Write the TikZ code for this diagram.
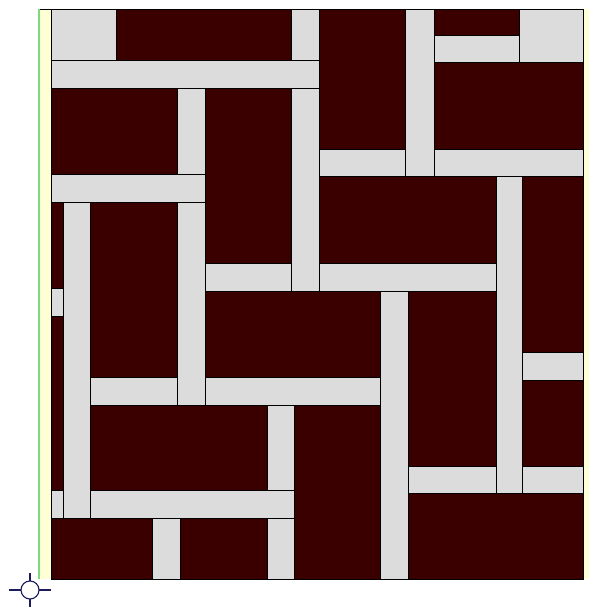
\documentclass[tikz,border=0pt]{standalone}
\usepackage{xcolor}
\definecolor{brickdark}{HTML}{3A0000}
\definecolor{jointgray}{HTML}{DCDCDC}
\definecolor{edgecream}{HTML}{FFFFD6}
\definecolor{edgegreen}{HTML}{7FD97F}
\definecolor{marknavy}{HTML}{1C1C5C}
\usepackage{tikz}

\begin{document}
\begin{tikzpicture}[
  x=1pt, y=-1pt,
  panel/.style={fill=brickdark, draw=black, line width=0.8pt},
  joint/.style={fill=jointgray, draw=black, line width=0.8pt},
  origin/.style={draw=marknavy, line width=1.1pt},
]
  \useasboundingbox[fill=white] (0,0) rectangle (589,609);

  % side strips
  \fill[edgecream] (40,9) rectangle (51,579);
  \fill[edgecream] (583,9) rectangle (589,579);
  \draw[edgegreen, line width=1.6pt] (39,9) -- (39,579);

  % dark field
  \draw[panel] (51,9) rectangle (583,579);
  \draw[black, line width=0.8pt] (40,9) -- (51,9);

  % gray joints, top part
  \foreach \xa/\ya/\xb/\yb in {
      51/9/116/60, 51/60/319/88, 291/9/319/60, 291/88/319/291,
      177/88/205/174, 51/174/205/202, 177/202/205/405,
      405/9/434/176, 434/35/519/62, 519/9/583/62,
      319/149/405/176, 434/149/583/176,
      205/263/291/291, 319/263/496/291}
    \draw[joint] (\xa,\ya) rectangle (\xb,\yb);

  % gray joints, lower part
  \foreach \xa/\ya/\xb/\yb in {
      63/202/90/518, 51/288/63/316, 51/490/63/518,
      90/377/177/405, 205/377/380/405, 380/291/408/579,
      496/176/522/493, 522/352/583/380,
      408/466/496/493, 522/466/583/493,
      267/405/294/490, 90/490/294/518, 267/518/294/579,
      152/518/180/579}
    \draw[joint] (\xa,\ya) rectangle (\xb,\yb);

  % origin mark
  \coordinate (orig) at (30,590);
  \draw[origin] (orig) circle (9);
  \draw[origin] (30,573) -- (30,581) (30,599) -- (30,607)
                (9,590) -- (21,590) (39,590) -- (51,590);
\end{tikzpicture}
\end{document}
